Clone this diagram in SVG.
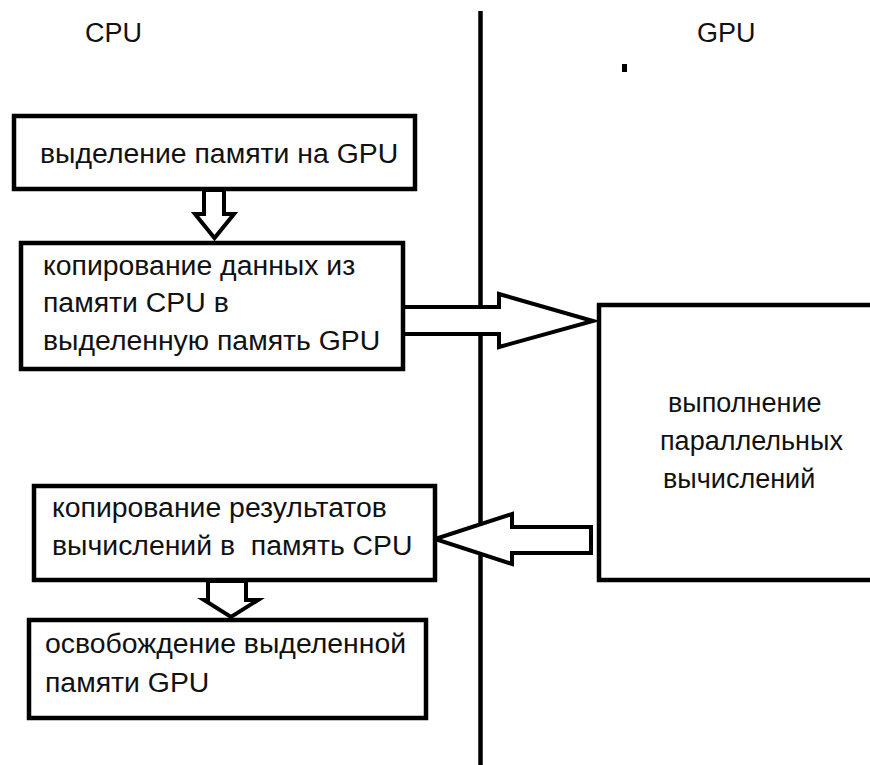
<svg xmlns="http://www.w3.org/2000/svg" width="870" height="765" viewBox="0 0 870 765">
<style>
.box{fill:#fff;stroke:#000;stroke-width:4.5}
.arr{fill:#fff;stroke:#000;stroke-width:4;stroke-linejoin:miter}
text{font-family:"Liberation Sans",Arial,sans-serif;font-size:27px;fill:#111}
.l{font-size:28.4px}
</style>
<rect width="870" height="765" fill="#fff"/>
<g id="lanes">
<line x1="480.5" y1="11" x2="480.5" y2="765" stroke="#000" stroke-width="4.5"/>
<text x="85" y="42">CPU</text>
<text x="697" y="42">GPU</text>
<rect x="622" y="64" width="5" height="8" fill="#000"/>
</g>
<g id="connectors">
<polygon class="arr" points="204,190 204,214 195,214 214.5,238 234,214 224,214 224,190"/>
<polygon class="arr" points="403,307 499,307 499,294 593,321 499,347 499,334 403,334"/>
<polygon class="arr" points="591,527 512,527 512,514 435,539 512,564 512,553 591,553"/>
<polygon class="arr" points="208,581 208,600 204,600 231,617 258,600 246,600 246,581"/>
</g>
<g id="n1">
<rect class="box" x="14" y="116" width="401" height="73"/>
<text class="l" x="40" y="163">выделение памяти на GPU</text>
</g>
<g id="n2">
<rect class="box" x="21" y="243" width="382" height="126"/>
<text class="l" x="43" y="275">копирование данных из</text>
<text class="l" x="43" y="312">памяти CPU в</text>
<text class="l" x="43" y="350">выделенную память GPU</text>
</g>
<g id="n3">
<rect class="box" x="599" y="305" width="300" height="275"/>
<text x="668" y="412">выполнение</text>
<text x="660" y="450">параллельных</text>
<text x="663" y="488">вычислений</text>
</g>
<g id="n4">
<rect class="box" x="34" y="486" width="401" height="94"/>
<text class="l" x="52" y="517">копирование результатов</text>
<text class="l" x="52" y="555" xml:space="preserve">вычислений в  память CPU</text>
</g>
<g id="n5">
<rect class="box" x="29" y="620" width="397" height="98"/>
<text class="l" x="45" y="653">освобождение выделенной</text>
<text class="l" x="45" y="692">памяти GPU</text>
</g>
</svg>
